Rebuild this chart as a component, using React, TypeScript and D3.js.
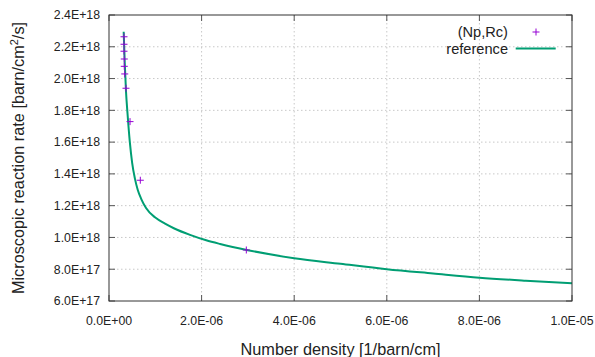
import React from "react";
import * as d3 from "d3";

// reference curve (x in 1/barn/cm, y in barn/cm^2/s)
const refX = [0.317e-6, 0.34e-6, 0.367e-6, 0.40e-6, 0.45e-6, 0.50e-6, 0.56e-6, 0.62e-6, 0.70e-6, 0.80e-6, 1.0e-6, 1.2e-6, 1.4e-6, 1.75e-6, 2.1e-6, 2.4e-6, 3.0e-6, 4.0e-6, 5.0e-6, 6.0e-6, 7.0e-6, 8.0e-6, 9.0e-6, 10.0e-6];
const refY = [2.295e18, 2.10e18, 1.92e18, 1.78e18, 1.60e18, 1.47e18, 1.37e18, 1.30e18, 1.24e18, 1.185e18, 1.125e18, 1.088e18, 1.058e18, 1.016e18, 0.982e18, 0.959e18, 0.92e18, 0.869e18, 0.834e18, 0.80e18, 0.773e18, 0.747e18, 0.728e18, 0.712e18];

// (Np,Rc) points
const npX = [0.324e-6, 0.324e-6, 0.324e-6, 0.33e-6, 0.33e-6, 0.34e-6, 0.367e-6, 0.454e-6, 0.676e-6, 2.966e-6];
const rcY = [2.263e18, 2.216e18, 2.172e18, 2.123e18, 2.077e18, 2.029e18, 1.939e18, 1.729e18, 1.36e18, 0.921e18];

const xTicks = [0, 2e-6, 4e-6, 6e-6, 8e-6, 1e-5];
const xTickLabels = ["0.0E+00", "2.0E-06", "4.0E-06", "6.0E-06", "8.0E-06", "1.0E-05"];
const yTicks = [6e17, 8e17, 1e18, 1.2e18, 1.4e18, 1.6e18, 1.8e18, 2.0e18, 2.2e18, 2.4e18];
const yTickLabels = ["6.0E+17", "8.0E+17", "1.0E+18", "1.2E+18", "1.4E+18", "1.6E+18", "1.8E+18", "2.0E+18", "2.2E+18", "2.4E+18"];

const W = 595, H = 357;
const L = 109, R = 572, T = 15, B = 301;
const FONT = "'Liberation Sans', Arial, sans-serif";
const PURPLE = "#9400d3";
const GREEN = "#009e73";

export default function App() {
  const x = d3.scaleLinear().domain([0, 1e-5]).range([L, R]);
  const y = d3.scaleLinear().domain([6e17, 2.4e18]).range([B, T]);
  const line = d3.line<number>().x((_, i) => x(refX[i])).y((d) => y(d)).curve(d3.curveMonotoneX);
  const tk = 6;
  return (
    <svg width={W} height={H} style={{ position: "absolute", left: 0, top: 0, background: "#fff" }} fontFamily={FONT}>
      <rect width={W} height={H} fill="#fff" />
      {/* grid */}
      {xTicks.slice(1, -1).map((v, i) => (
        <line key={"gx" + i} x1={x(v)} x2={x(v)} y1={T} y2={B} stroke="#c8c8c8" strokeDasharray="1.5,2.5" />
      ))}
      {yTicks.slice(1, -1).map((v, i) => (
        <line key={"gy" + i} x1={L} x2={R} y1={y(v)} y2={y(v)} stroke="#c8c8c8" strokeDasharray="1.5,2.5" />
      ))}
      {/* ticks */}
      {xTicks.map((v, i) => (
        <g key={"tx" + i}>
          <line x1={x(v)} x2={x(v)} y1={B} y2={B - tk} stroke="#555" />
          <line x1={x(v)} x2={x(v)} y1={T} y2={T + tk} stroke="#555" />
          <text x={x(v)} y={325} textAnchor="middle" fontSize={12.3} fill="#222">{xTickLabels[i]}</text>
        </g>
      ))}
      {yTicks.map((v, i) => (
        <g key={"ty" + i}>
          <line x1={L} x2={L + tk} y1={y(v)} y2={y(v)} stroke="#555" />
          <line x1={R} x2={R - tk} y1={y(v)} y2={y(v)} stroke="#555" />
          <text x={100} y={y(v) + 4.3} textAnchor="end" fontSize={12.3} fill="#222">{yTickLabels[i]}</text>
        </g>
      ))}
      {/* reference curve */}
      <path d={line(refY) || ""} fill="none" stroke={GREEN} strokeWidth={2} strokeLinejoin="round" />
      {/* points */}
      {rcY.map((v, i) => {
        const cx = x(npX[i]), cy = y(v), s = 3.5;
        return (
          <g key={"p" + i} stroke={PURPLE} strokeWidth={1}>
            <line x1={cx - s} x2={cx + s} y1={cy} y2={cy} />
            <line x1={cx} x2={cx} y1={cy - s} y2={cy + s} />
          </g>
        );
      })}
      {/* border */}
      <rect x={L} y={T} width={R - L} height={B - T} fill="none" stroke="#333" strokeWidth={1} />
      {/* legend */}
      <text x={508} y={37} textAnchor="end" fontSize={14.6} fill="#222">(Np,Rc)</text>
      <g stroke={PURPLE} strokeWidth={1}>
        <line x1={532.5} x2={539.5} y1={32} y2={32} />
        <line x1={536} x2={536} y1={28.5} y2={35.5} />
      </g>
      <text x={508} y={54} textAnchor="end" fontSize={14.6} fill="#222">reference</text>
      <line x1={515.7} x2={555.7} y1={48.5} y2={48.5} stroke={GREEN} strokeWidth={2} />
      {/* axis titles */}
      <text x={340.5} y={355} textAnchor="middle" fontSize={16.3} fill="#222">Number density [1/barn/cm]</text>
      <text transform={`translate(24,${(T + B) / 2}) rotate(-90)`} textAnchor="middle" fontSize={16.3} fill="#222">
        Microscopic reaction rate [barn/cm<tspan dy={-6} fontSize={11}>2</tspan><tspan dy={6}>/s]</tspan>
      </text>
    </svg>
  );
}
